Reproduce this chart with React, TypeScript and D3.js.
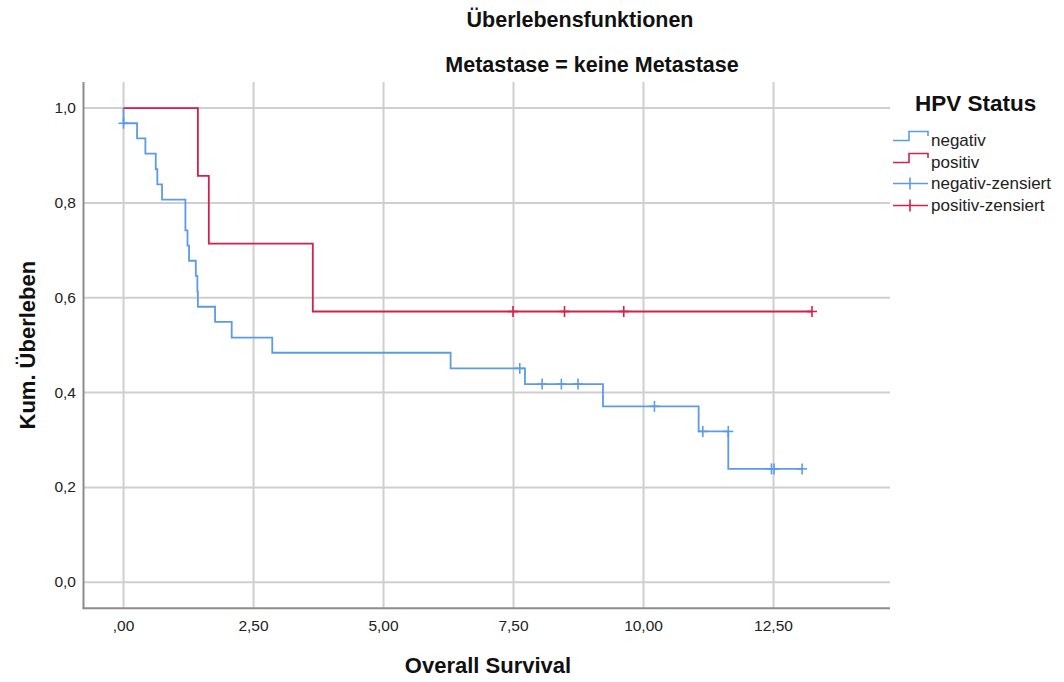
import React from 'react';
import * as d3 from 'd3';

// Kaplan-Meier steps: time of drop, survival after the drop
const negTimes = [0.0, 0.26, 0.42, 0.62, 0.65, 0.74, 1.19, 1.23, 1.26, 1.39, 1.42, 1.43, 1.76, 2.08, 2.86, 6.29, 7.72, 9.22, 11.06, 11.63];
const negSurv = [0.968, 0.936, 0.904, 0.871, 0.839, 0.807, 0.742, 0.71, 0.678, 0.646, 0.613, 0.581, 0.549, 0.516, 0.484, 0.451, 0.418, 0.371, 0.318, 0.239];
const negEnd = 13.05;
const negCensTimes = [0.0, 7.62, 8.05, 8.42, 8.74, 10.21, 11.14, 11.63, 12.46, 12.51, 13.05];
const negCensSurv = [0.968, 0.451, 0.418, 0.418, 0.418, 0.371, 0.318, 0.318, 0.239, 0.239, 0.239];

const posTimes = [1.43, 1.64, 3.64];
const posSurv = [0.857, 0.714, 0.571];
const posEnd = 13.24;
const posCensTimes = [7.49, 8.48, 9.62, 13.24];
const posCensSurv = [0.571, 0.571, 0.571, 0.571];

const xTicks = [0, 2.5, 5, 7.5, 10, 12.5];
const yTicks = [0, 0.2, 0.4, 0.6, 0.8, 1.0];
const legendLabels = ['negativ', 'positiv', 'negativ-zensiert', 'positiv-zensiert'];

const BLUE = '#5b9be9';
const RED = '#d4204c';
const FONT = 'Arial, "Liberation Sans", sans-serif';

const width = 1064;
const height = 682;
const left = 83.5;
const right = 890;
const top = 82;
const bottom = 608.3;

const x = d3.scaleLinear().domain([-0.77, 14.74]).range([left, right]);
const y = d3.scaleLinear().domain([-0.055, 1.055]).range([bottom, top]);

const deComma = (s: string) => s.replace('.', ',');
const fmtX = (v: number) => (v === 0 ? ',00' : deComma(d3.format('.2f')(v)));
const fmtY = (v: number) => deComma(d3.format('.1f')(v));

function stepPoints(times: number[], surv: number[], end: number): [number, number][] {
  const pts: [number, number][] = [[0, 1]];
  times.forEach((t, i) => pts.push([t, surv[i]]));
  pts.push([end, surv[surv.length - 1]]);
  return pts;
}

const line = d3
  .line<[number, number]>()
  .x(d => x(d[0]))
  .y(d => y(d[1]))
  .curve(d3.curveStepAfter);

const Cross: React.FC<{ cx: number; cy: number; color: string }> = ({ cx, cy, color }) => (
  <g stroke={color} strokeWidth={1.6}>
    <line x1={cx - 5} x2={cx + 5} y1={cy} y2={cy} />
    <line x1={cx} x2={cx} y1={cy - 5.5} y2={cy + 5.5} />
  </g>
);

export default function App() {
  const negPath = line(stepPoints(negTimes, negSurv, negEnd)) || '';
  const posPath = line(stepPoints(posTimes, posSurv, posEnd)) || '';

  const legendY = [140, 162, 183.5, 205.5];

  return (
    <div style={{ position: 'absolute', left: 0, top: 0 }}>
      <svg width={width} height={height} style={{ display: 'block', background: '#fff' }} fontFamily={FONT}>
        {/* titles */}
        <text x={580} y={27} textAnchor="middle" fontSize={21.5} fontWeight="bold" fill="#111">
          Überlebensfunktionen
        </text>
        <text x={592} y={72} textAnchor="middle" fontSize={21.5} fontWeight="bold" fill="#111">
          Metastase = keine Metastase
        </text>

        {/* grid */}
        {xTicks.map(t => (
          <line key={'gx' + t} x1={x(t)} x2={x(t)} y1={top} y2={bottom} stroke="#cfcfcf" strokeWidth={2} />
        ))}
        {yTicks.map(t => (
          <line key={'gy' + t} x1={left} x2={right} y1={y(t)} y2={y(t)} stroke="#cfcfcf" strokeWidth={2} />
        ))}

        {/* axes */}
        <line x1={left} x2={left} y1={top} y2={bottom} stroke="#8c8c8c" strokeWidth={2} />
        <line x1={left - 1} x2={right} y1={bottom} y2={bottom} stroke="#8c8c8c" strokeWidth={2} />

        {xTicks.map(t => (
          <text key={'tx' + t} x={x(t)} y={631} textAnchor="middle" fontSize={15.5} fill="#222">
            {fmtX(t)}
          </text>
        ))}
        {yTicks.map(t => (
          <text key={'ty' + t} x={76} y={y(t) + 5} textAnchor="end" fontSize={15.5} fill="#222">
            {fmtY(t)}
          </text>
        ))}

        <text x={488} y={673} textAnchor="middle" fontSize={22} fontWeight="bold" fill="#111">
          Overall Survival
        </text>
        <text
          transform={`translate(35,${y(0.5)}) rotate(-90)`}
          textAnchor="middle"
          fontSize={22}
          fontWeight="bold"
          fill="#111"
        >
          Kum. Überleben
        </text>

        {/* survival curves */}
        <path d={negPath} fill="none" stroke={BLUE} strokeWidth={1.8} />
        <path d={posPath} fill="none" stroke={RED} strokeWidth={1.8} />
        {negCensTimes.map((t, i) => (
          <Cross key={'nc' + i} cx={x(t)} cy={y(negCensSurv[i])} color={BLUE} />
        ))}
        {posCensTimes.map((t, i) => (
          <Cross key={'pc' + i} cx={x(t)} cy={y(posCensSurv[i])} color={RED} />
        ))}

        {/* legend */}
        <text x={915} y={111} fontSize={22.5} fontWeight="bold" fill="#111">
          HPV Status
        </text>
        {legendLabels.map((lab, i) => {
          const ly = legendY[i];
          const color = i % 2 === 0 ? BLUE : RED;
          const censored = i >= 2;
          return (
            <g key={lab}>
              {censored ? (
                <g>
                  <line x1={893} x2={928} y1={ly} y2={ly} stroke={color} strokeWidth={1.6} />
                  <line x1={910} x2={910} y1={ly - 6} y2={ly + 6} stroke={color} strokeWidth={1.6} />
                </g>
              ) : (
                <path
                  d={`M893,${ly + 0.5}H909V${ly - 8.5}H928V${ly - 4}`}
                  fill="none"
                  stroke={color}
                  strokeWidth={1.6}
                />
              )}
              <text x={931} y={ly + 5.5} fontSize={17} fill="#222">
                {lab}
              </text>
            </g>
          );
        })}
      </svg>
    </div>
  );
}
